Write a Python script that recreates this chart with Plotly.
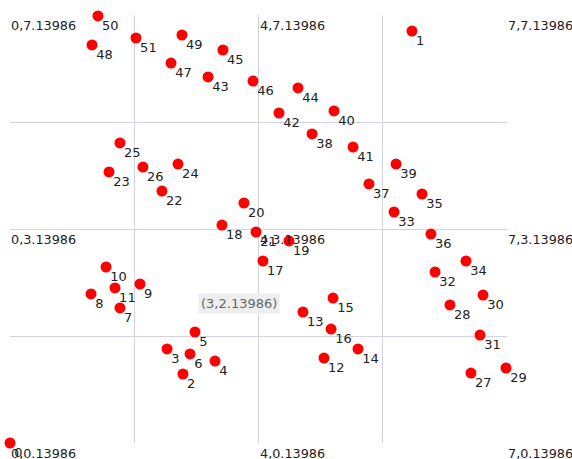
import plotly.graph_objects as go

# point ids and positions (grid units: x 0..4, y 0..4)
ids = list(range(52))
xs = [0.00, 3.235, 1.392, 1.264, 1.650, 1.489, 1.449, 0.885, 0.652, 1.046,
      0.773, 0.845, 2.527, 2.358, 2.801, 2.600, 2.584, 2.036, 1.706, 2.245,
      1.883, 1.980, 1.223, 0.797, 1.352, 0.885, 1.070, 3.710, 3.541, 3.992,
      3.807, 3.783, 3.421, 3.091, 3.670, 3.316, 3.388, 2.889, 2.431, 3.107,
      2.608, 2.761, 2.165, 1.594, 2.318, 1.714, 1.956, 1.296, 0.660, 1.384,
      0.708, 1.014]
ys = [0.00, 3.850, 0.645, 0.879, 0.766, 1.037, 0.832, 1.262, 1.393, 1.486,
      1.645, 1.449, 0.794, 1.224, 0.879, 1.355, 1.065, 1.701, 2.037, 1.888,
      2.243, 1.972, 2.355, 2.533, 2.607, 2.804, 2.579, 0.654, 1.290, 0.701,
      1.383, 1.009, 1.598, 2.159, 1.701, 2.327, 1.953, 2.421, 2.888, 2.607,
      3.103, 2.766, 3.084, 3.421, 3.318, 3.673, 3.383, 3.551, 3.720, 3.813,
      3.991, 3.785]

# corner labels
corner_x = [0, 2, 4, 0, 2, 4, 0, 2, 4]
corner_y = [4, 4, 4, 2, 2, 2, 0, 0, 0]
corner_text = ["0,7.13986", "4,7.13986", "7,7.13986",
               "0,3.13986", "4,3.13986", "7,3.13986",
               "0,0.13986", "4,0.13986", "7,0.13986"]

tip_x, tip_y, tip_text = 1.84, 1.30, "(3,2.13986)"

FONT = "DejaVu Sans"

fig = go.Figure()
fig.add_trace(go.Scatter(
    x=xs, y=ys, mode="markers",
    marker=dict(color="#ff0000", size=11, line=dict(width=0)),
    cliponaxis=False, hoverinfo="skip", showlegend=False,
))
fig.add_trace(go.Scatter(
    x=xs, y=ys, mode="markers+text", text=[str(i) for i in ids],
    textposition="bottom right",
    textfont=dict(family=FONT, size=13, color="#222222"),
    marker=dict(size=5, color="rgba(0,0,0,0)"),
    cliponaxis=False, hoverinfo="skip", showlegend=False,
))

for cx, cy, ct in zip(corner_x, corner_y, corner_text):
    fig.add_annotation(x=cx, y=cy, text=ct, showarrow=False,
                       xanchor="left", yanchor="top", xshift=-1, yshift=-1,
                       font=dict(family=FONT, size=12.8, color="#222222"))

fig.add_annotation(x=tip_x, y=tip_y, text=tip_text, showarrow=False,
                   bgcolor="#eeeeee", borderpad=2,
                   font=dict(family=FONT, size=13, color="#666666"))

grid = "#d2d2e4"
fig.update_xaxes(range=[0, 4], tickvals=[0, 1, 2, 3], showticklabels=False,
                 showgrid=True, gridcolor=grid, gridwidth=1, zeroline=False,
                 showline=False, fixedrange=True)
fig.update_yaxes(range=[0, 4], tickvals=[1, 2, 3, 4], showticklabels=False,
                 showgrid=True, gridcolor=grid, gridwidth=1, zeroline=False,
                 showline=False, fixedrange=True)
fig.update_layout(width=572, height=459, plot_bgcolor="white",
                  paper_bgcolor="white",
                  margin=dict(l=10, r=65, t=15, b=16))
fig.write_html("out.html", config={"displayModeBar": False},
               post_script="document.body.style.margin='0px';document.body.style.overflow='hidden';")
